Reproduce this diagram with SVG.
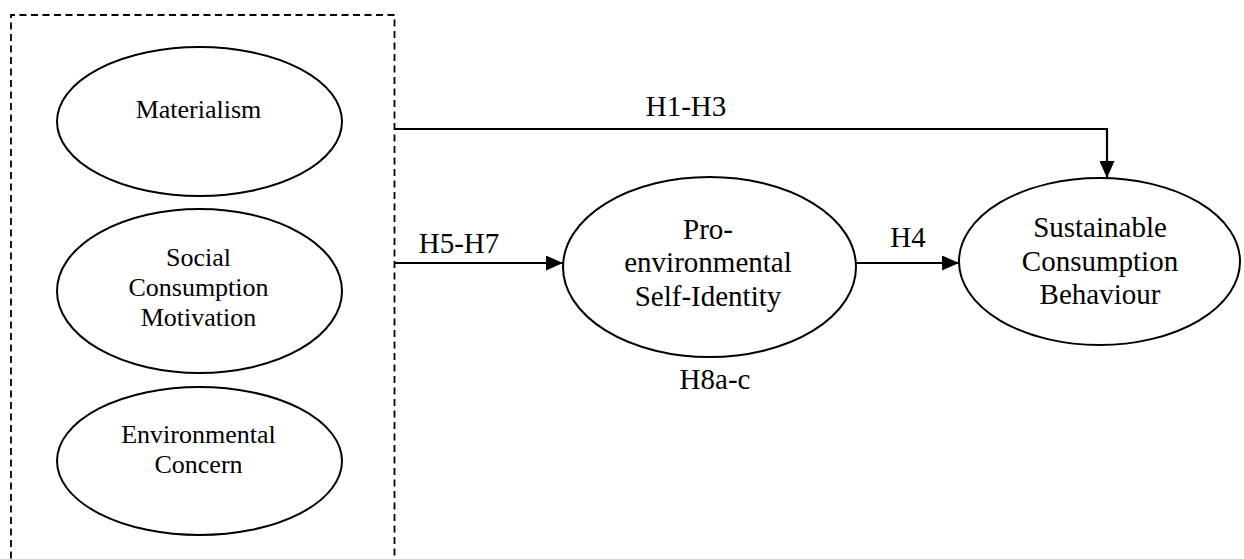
<svg xmlns="http://www.w3.org/2000/svg" width="1244" height="559" viewBox="0 0 1244 559">
<defs>
<marker id="arr" markerWidth="17" markerHeight="15" refX="17" refY="7.5" orient="auto" markerUnits="userSpaceOnUse">
<path d="M0,0 L17,7.5 L0,15 Z" fill="#000"/>
</marker>
<style>
.el{fill:#fff;stroke:#000;stroke-width:2}
.t{font-family:"Liberation Serif","Times New Roman",serif;fill:#000;text-anchor:middle}
.s{font-size:26px}
.b{font-size:29px}
.c{fill:none;stroke:#000;stroke-width:2.2}
</style>
</defs>
<rect width="1244" height="559" fill="#fff"/>
<path id="box" d="M11,570 L11,15 L394.5,15 L394.5,570" fill="none" stroke="#000" stroke-width="1.8" stroke-dasharray="7 4.5"/>
<g id="connectors">
<path class="c" d="M395,129 L1107,129 L1107,178" marker-end="url(#arr)"/>
<path class="c" d="M395,263 L563,263" marker-end="url(#arr)"/>
<path class="c" d="M856,263 L959,263" marker-end="url(#arr)"/>
<text class="t b" x="686" y="116">H1-H3</text>
<text class="t b" x="459" y="253">H5-H7</text>
<text class="t b" x="908" y="247">H4</text>
<text class="t b" x="715" y="389">H8a-c</text>
</g>
<g id="materialism">
<ellipse class="el" cx="199.5" cy="121.5" rx="142.5" ry="74.5"/>
<text class="t s" x="198.5" y="118">Materialism</text>
</g>
<g id="social">
<ellipse class="el" cx="199.5" cy="291" rx="142.5" ry="82"/>
<text class="t s" x="198.5" y="266">Social</text>
<text class="t s" x="198.5" y="296">Consumption</text>
<text class="t s" x="198.5" y="326">Motivation</text>
</g>
<g id="environmental">
<ellipse class="el" cx="199.5" cy="461" rx="142.5" ry="74"/>
<text class="t s" x="198.5" y="443">Environmental</text>
<text class="t s" x="198.5" y="473">Concern</text>
</g>
<g id="pro">
<ellipse class="el" cx="709.5" cy="267" rx="146.5" ry="90"/>
<text class="t b" x="708" y="239">Pro-</text>
<text class="t b" x="708" y="272">environmental</text>
<text class="t b" x="708" y="306">Self-Identity</text>
</g>
<g id="sustainable">
<ellipse class="el" cx="1099.5" cy="261.5" rx="140.5" ry="83.5"/>
<text class="t b" x="1100" y="237">Sustainable</text>
<text class="t b" x="1100" y="271">Consumption</text>
<text class="t b" x="1100" y="304">Behaviour</text>
</g>
</svg>
